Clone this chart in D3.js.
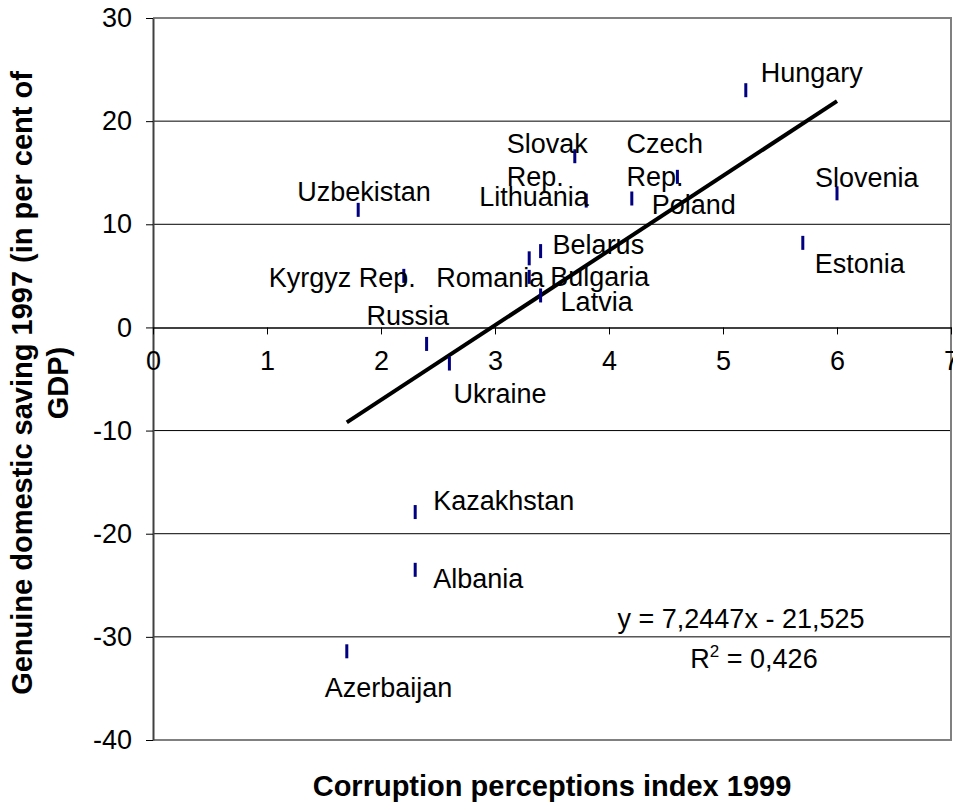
<!DOCTYPE html>
<html lang="en">
<head>
    <meta charset="UTF-8">
    <title>Corruption perceptions vs genuine domestic saving</title>
    <script type="text/javascript" src="https://cdnjs.cloudflare.com/ajax/libs/d3/7.8.5/d3.min.js"></script>
    <style type="text/css">
        body { margin: 0; background: #fff; }
        svg { display: block; }
        text { font-family: "Liberation Sans", Arial, sans-serif; }
    </style>
</head>
<body>
<script type="text/javascript">

    //Width and height
    var w = 953;
    var h = 807;

    //Data
    var countries = ["Uzbekistan", "Kyrgyz Rep.", "Russia", "Ukraine", "Romania", "Bulgaria",
        "Belarus", "Latvia", "Slovak Rep.", "Lithuania", "Poland", "Czech Rep.",
        "Hungary", "Estonia", "Slovenia", "Kazakhstan", "Albania", "Azerbaijan"];
    var cpi = [1.8, 2.2, 2.4, 2.6, 3.3, 3.3, 3.4, 3.4, 3.7, 3.8, 4.2, 4.6, 5.2, 5.7, 6.0, 2.3, 2.3, 1.7];
    var saving = [11.4, 5.0, -1.6, -3.5, 4.9, 6.7, 7.4, 3.1, 16.6, 12.3, 12.5, 14.6, 23.0, 8.2, 13.0, -17.9, -23.5, -31.4];

    var xTicks = [0, 1, 2, 3, 4, 5, 6, 7];
    var yTicks = [-40, -30, -20, -10, 0, 10, 20, 30];

    //Linear trend as printed on the chart
    var slope = 7.2447;
    var intercept = -21.525;
    var eqText = "y = 7,2447x - 21,525";
    var r2Text = "0,426";

    //Label placement (pixel offsets from each marker), lines split for two-line labels
    var labelPos = {
        "Uzbekistan":  { dx: -61, dy: -9 },
        "Kyrgyz Rep.": { dx: 12, dy: 11, anchor: "end" },
        "Russia":      { dx: -60, dy: -19 },
        "Ukraine":     { dx: 4, dy: 39 },
        "Romania":     { dx: -93, dy: 10 },
        "Bulgaria":    { dx: 21, dy: 28 },
        "Belarus":     { dx: 12, dy: 3 },
        "Latvia":      { dx: 20, dy: 16 },
        "Slovak Rep.": { dx: -68, dy: -3, lines: ["Slovak", "Rep."] },
        "Lithuania":   { dx: -107, dy: 5 },
        "Poland":      { dx: 20, dy: 15 },
        "Czech Rep.":  { dx: -51, dy: -24, lines: ["Czech", "Rep."] },
        "Hungary":     { dx: 15, dy: -8 },
        "Estonia":     { dx: 12, dy: 30 },
        "Slovenia":    { dx: -22, dy: -6 },
        "Kazakhstan":  { dx: 18, dy: -2 },
        "Albania":     { dx: 18, dy: 18 },
        "Azerbaijan":  { dx: -22, dy: 46 }
    };

    var fontSize = 27;
    var titleSize = 29;
    var lineGap = 33;

    //Plot area
    var plotL = 153, plotR = 951, plotT = 18, plotB = 740;

    var xScale = d3.scaleLinear().domain([0, 7]).range([plotL, plotR]);
    var yScale = d3.scaleLinear().domain([-40, 30]).range([plotB, plotT]);

    //plain hyphen for negatives, like the original
    var fmt = function(d) { return String(d); };

    //Create SVG element
    var svg = d3.select("body")
        .append("svg")
        .attr("width", w)
        .attr("height", h);

    //Horizontal gridlines
    svg.selectAll("line.grid")
        .data(yTicks.filter(function(d) { return d !== 0 && d !== 30 && d !== -40; }))
        .enter()
        .append("line")
        .attr("class", "grid")
        .attr("x1", plotL)
        .attr("x2", plotR)
        .attr("y1", function(d) { return yScale(d); })
        .attr("y2", function(d) { return yScale(d); })
        .attr("stroke", "#000")
        .attr("stroke-width", 1);

    //Plot area border (top, right, bottom)
    svg.append("path")
        .attr("d", "M" + plotL + "," + yScale(30) + "H" + plotR + "V" + yScale(-40) + "H" + plotL)
        .attr("fill", "none")
        .attr("stroke", "#808080")
        .attr("stroke-width", 2);

    //Y axis
    var yAxis = d3.axisLeft(yScale)
        .tickValues(yTicks)
        .tickFormat(fmt)
        .tickSize(7)
        .tickSizeOuter(0)
        .tickPadding(14);
    var gy = svg.append("g")
        .attr("transform", "translate(" + plotL + ",0)")
        .call(yAxis);
    gy.select(".domain").attr("stroke", "#404040").attr("stroke-width", 2);
    gy.selectAll(".tick line").attr("stroke", "#000");
    gy.selectAll(".tick text")
        .attr("font-size", fontSize + "px")
        .attr("font-family", "Liberation Sans, Arial, sans-serif")
        .attr("fill", "#000");

    //X axis crossing at zero
    var xAxis = d3.axisBottom(xScale)
        .tickValues(xTicks)
        .tickFormat(fmt)
        .tickSize(7)
        .tickSizeOuter(0)
        .tickPadding(16);
    var gx = svg.append("g")
        .attr("transform", "translate(0," + yScale(0) + ")")
        .call(xAxis);
    gx.select(".domain").attr("stroke", "#000").attr("stroke-width", 1.5);
    gx.selectAll(".tick line").attr("stroke", "#000");
    gx.selectAll(".tick text")
        .attr("font-size", fontSize + "px")
        .attr("font-family", "Liberation Sans, Arial, sans-serif")
        .attr("fill", "#000");

    //Trend line over the data range
    var xr = d3.extent(cpi);
    svg.append("line")
        .attr("x1", xScale(xr[0]))
        .attr("y1", yScale(slope * xr[0] + intercept))
        .attr("x2", xScale(xr[1]))
        .attr("y2", yScale(slope * xr[1] + intercept))
        .attr("stroke", "#000")
        .attr("stroke-width", 4);

    //Point markers: short vertical dashes
    var pts = countries.map(function(c, i) {
        return { name: c, x: cpi[i], y: saving[i] };
    });
    svg.selectAll("rect.pt")
        .data(pts)
        .enter()
        .append("rect")
        .attr("class", "pt")
        .attr("x", function(d) { return xScale(d.x) - 1.5; })
        .attr("y", function(d) { return yScale(d.y) - 7; })
        .attr("width", 3)
        .attr("height", 14)
        .attr("fill", "#000080");

    //Country labels
    var labels = svg.selectAll("text.lbl")
        .data(pts)
        .enter()
        .append("text")
        .attr("class", "lbl")
        .attr("x", function(d) { return xScale(d.x) + labelPos[d.name].dx; })
        .attr("y", function(d) { return yScale(d.y) + labelPos[d.name].dy; })
        .attr("text-anchor", function(d) { return labelPos[d.name].anchor || "start"; })
        .attr("font-size", fontSize + "px")
        .attr("fill", "#000");
    labels.each(function(d) {
        var p = labelPos[d.name];
        var t = d3.select(this);
        if (p.lines) {
            p.lines.forEach(function(l, k) {
                t.append("tspan")
                    .attr("x", xScale(d.x) + p.dx)
                    .attr("dy", k === 0 ? 0 : lineGap)
                    .text(l);
            });
        } else {
            t.text(d.name);
        }
    });

    //Regression equation
    svg.append("text")
        .attr("x", 741)
        .attr("y", 628)
        .attr("text-anchor", "middle")
        .attr("font-size", fontSize + "px")
        .text(eqText);
    var r2 = svg.append("text")
        .attr("x", 754)
        .attr("y", 668)
        .attr("text-anchor", "middle")
        .attr("font-size", fontSize + "px");
    r2.append("tspan").text("R");
    r2.append("tspan").attr("font-size", "17px").attr("dy", -11).text("2");
    r2.append("tspan").attr("dy", 11).text(" = " + r2Text);

    //Axis titles
    svg.append("text")
        .attr("x", (plotL + plotR) / 2)
        .attr("y", 796)
        .attr("text-anchor", "middle")
        .attr("font-size", titleSize + "px")
        .attr("font-weight", "bold")
        .text("Corruption perceptions index 1999");

    var yt = svg.append("text")
        .attr("transform", "translate(32,383) rotate(-90)")
        .attr("text-anchor", "middle")
        .attr("font-size", titleSize + "px")
        .attr("font-weight", "bold");
    yt.append("tspan").attr("x", 0).attr("dy", 0).text("Genuine domestic saving 1997 (in per cent of");
    yt.append("tspan").attr("x", 0).attr("dy", 36).text("GDP)");

</script>
</body>
</html>
